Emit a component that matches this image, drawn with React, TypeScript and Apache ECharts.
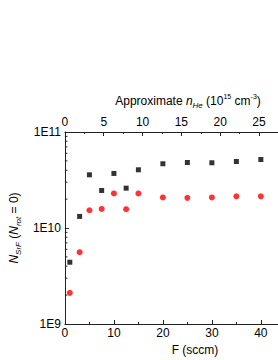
import React, { useEffect, useRef } from "react";
import * as echarts from "echarts";

const flowRates = [1, 3, 5, 7.5, 10, 12.5, 15, 20, 25, 30, 35, 40];
const squareSeries = [4.4e9, 1.32e10, 3.58e10, 2.46e10, 3.7e10, 2.6e10, 4.04e10, 4.67e10, 4.81e10, 4.78e10, 4.93e10, 5.17e10];
const circleSeries = [2.11e9, 5.6e9, 1.53e10, 1.58e10, 2.29e10, 1.57e10, 2.29e10, 2.08e10, 2.06e10, 2.08e10, 2.14e10, 2.14e10];
const yMinorTicks = [2e9, 3e9, 4e9, 5e9, 6e9, 7e9, 8e9, 9e9, 2e10, 3e10, 4e10, 5e10, 6e10, 7e10, 8e10, 9e10];

const FONT = "Liberation Sans, Arial, sans-serif";
const AXIS_COLOR = "#222";

export default function App() {
  const ref = useRef<HTMLDivElement>(null);
  useEffect(() => {
    if (!ref.current) return;
    const chart = echarts.init(ref.current, undefined, { renderer: "svg" });
    const fmtInt = (step: number) => (v: number) =>
      Math.abs(v / step - Math.round(v / step)) < 1e-6 ? String(Math.round(v)) : "";
    chart.setOption({
      animation: false,
      textStyle: { fontFamily: FONT },
      grid: { left: 54, right: 0, top: 132, bottom: 36 },
      xAxis: [
        {
          type: "value",
          min: 0,
          max: 43.5,
          interval: 10,
          position: "bottom",
          axisLine: { lineStyle: { color: AXIS_COLOR } },
          axisTick: { inside: true, length: 4, lineStyle: { color: AXIS_COLOR } },
          minorTick: { show: true, splitNumber: 2, length: 2, lineStyle: { color: AXIS_COLOR } },
          splitLine: { show: false },
          axisLabel: { color: "#000", fontSize: 12, margin: 3, showMaxLabel: false, formatter: fmtInt(10) },
        },
        {
          type: "value",
          min: 0,
          max: 27.45,
          interval: 5,
          position: "top",
          axisLine: { lineStyle: { color: AXIS_COLOR } },
          axisTick: { inside: true, length: 4, lineStyle: { color: AXIS_COLOR } },
          minorTick: { show: true, splitNumber: 2, length: 2, lineStyle: { color: AXIS_COLOR } },
          splitLine: { show: false },
          axisLabel: { color: "#000", fontSize: 12, margin: 4, showMaxLabel: false, formatter: fmtInt(5) },
        },
      ],
      yAxis: {
        type: "log",
        logBase: 10,
        min: 1e9,
        max: 1e11,
        axisLine: { show: true, lineStyle: { color: AXIS_COLOR } },
        axisTick: { show: true, inside: true, length: 4, lineStyle: { color: AXIS_COLOR } },
        splitLine: { show: false },
        axisLabel: {
          color: "#000",
          fontSize: 12,
          margin: 4,
          formatter: (v: number) => "1E" + Math.round(Math.log10(v)),
        },
        name: "{ni|N}{sub|SrF}{r| (}{ni|N}{sub|rot}{r| = 0)}",
        nameLocation: "middle",
        nameRotate: 90,
        nameGap: 38,
        nameTextStyle: {
          rich: {
            ni: { fontStyle: "italic", fontSize: 12, fontFamily: FONT, color: "#000", lineHeight: 16 },
            sub: { fontStyle: "italic", fontSize: 8, fontFamily: FONT, color: "#000", verticalAlign: "bottom", lineHeight: 16, padding: [6, 0, 0, 0] },
            r: { fontSize: 12, fontFamily: FONT, color: "#000", lineHeight: 16 },
          },
        },
      },
      graphic: [
        {
          type: "text",
          x: 188,
          y: 101,
          style: {
            text: "{r|Approximate }{ni|n}{sub|He}{r| (10}{sup|15}{r| cm}{sup|-3}{r|)}",
            align: "center",
            verticalAlign: "middle",
            rich: {
              r: { fontSize: 12, fontFamily: FONT, fill: "#000", lineHeight: 16 },
              ni: { fontSize: 12, fontStyle: "italic", fontFamily: FONT, fill: "#000", lineHeight: 16 },
              sub: { fontSize: 8, fontStyle: "italic", fontFamily: FONT, fill: "#000", lineHeight: 16, verticalAlign: "bottom", padding: [6, 0, 0, 0] },
              sup: { fontSize: 7, fontFamily: FONT, fill: "#000", lineHeight: 16, verticalAlign: "top", padding: [0, 0, 7, 0] },
            },
          },
        },
        {
          type: "text",
          x: 195,
          y: 350,
          style: { text: "F (sccm)", align: "center", verticalAlign: "middle", font: "12px " + FONT, fill: "#000" },
        },
      ],
      series: [
        {
          type: "scatter",
          xAxisIndex: 0,
          symbol: "rect",
          symbolSize: 5,
          itemStyle: { color: "#000" },
          data: flowRates.map((f, i) => [f, squareSeries[i]]),
        },
        {
          type: "scatter",
          xAxisIndex: 0,
          symbol: "circle",
          symbolSize: 6,
          itemStyle: { color: "#ff0000" },
          data: flowRates.map((f, i) => [f, circleSeries[i]]),
        },
        {
          type: "custom",
          xAxisIndex: 0,
          silent: true,
          clip: false,
          data: yMinorTicks.map((v) => [0, v]),
          renderItem: (_params: any, api: any) => {
            const p = api.coord([0, api.value(1)]);
            return {
              type: "line",
              shape: { x1: p[0], y1: p[1], x2: p[0] + 2.5, y2: p[1] },
              style: { stroke: AXIS_COLOR, lineWidth: 1 },
            };
          },
        },
      ],
    });
    return () => chart.dispose();
  }, []);
  return (
    <div
      ref={ref}
      style={{ position: "fixed", left: 0, top: 0, width: 278, height: 360, background: "#fff" }}
    />
  );
}
